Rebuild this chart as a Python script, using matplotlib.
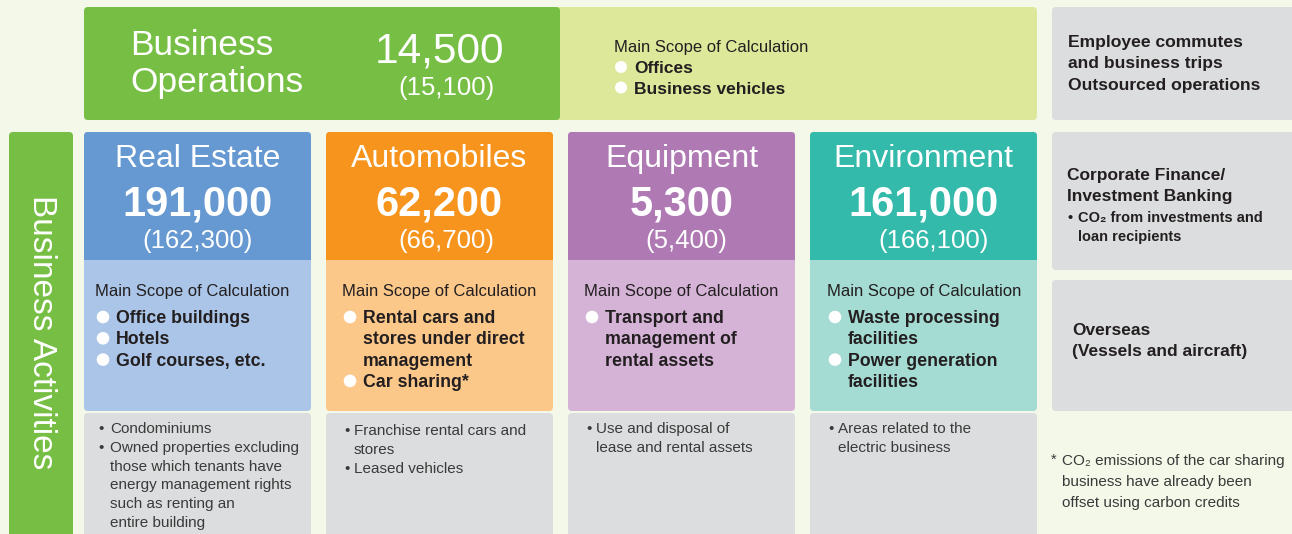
import matplotlib
matplotlib.use("Agg")
import matplotlib.pyplot as plt
from matplotlib.patches import FancyBboxPatch, Circle, Rectangle

plt.rcParams['font.family'] = ['Liberation Sans', 'DejaVu Sans']

# ---------------- data ----------------
ops_label = ["Business", "Operations"]
ops_value = 14500
ops_prev = 15100
scope_title = "Main Scope of Calculation"
ops_scope = ["Offices", "Business vehicles"]
ops_other = ["Employee commutes", "and business trips", "Outsourced operations"]

categories = ["Real Estate", "Automobiles", "Equipment", "Environment"]
values = [191000, 62200, 5300, 161000]
prev_values = [162300, 66700, 5400, 166100]
scope_items = [
    [["Office buildings"], ["Hotels"], ["Golf courses, etc."]],
    [["Rental cars and", "stores under direct", "management"], ["Car sharing*"]],
    [["Transport and", "management of", "rental assets"]],
    [["Waste processing", "facilities"], ["Power generation", "facilities"]],
]
excluded_items = [
    [["Condominiums"], ["Owned properties excluding", "those which tenants have",
                         "energy management rights", "such as renting an", "entire building"]],
    [["Franchise rental cars and", "stores"], ["Leased vehicles"]],
    [["Use and disposal of", "lease and rental assets"]],
    [["Areas related to the", "electric business"]],
]
side_finance = ["Corporate Finance/", "Investment Banking"]
side_finance_note = ["CO\u2082 from investments and", "loan recipients"]
side_overseas = ["Overseas", "(Vessels and aircraft)"]
footnote = ["CO\u2082 emissions of the car sharing", "business have already been",
            "offset using carbon credits"]
side_label = "Business Activities"

# ---------------- style ----------------
BG = "#F4F8E9"
GREEN = "#76BF44"
LGREEN = "#DEE89B"
GRAY = "#DCDDDE"
DARK = "#231F20"
SOFT = "#3A3A3A"
dark_colors = ["#6699D1", "#F7941D", "#AF79B4", "#34BAAA"]
light_colors = ["#AAC5E7", "#FCC88A", "#D5B3D7", "#A4DBD3"]

W, H = 1292, 534
fig = plt.figure(figsize=(W / 100, H / 100), dpi=100, facecolor=BG)
ax = fig.add_axes([0, 0, 1, 1])
ax.set_xlim(0, W)
ax.set_ylim(H, 0)
ax.axis("off")
ax.set_facecolor(BG)


def rbox(x0, y0, x1, y1, color, r=4, z=1):
    p = FancyBboxPatch((x0, y0), x1 - x0, y1 - y0,
                       boxstyle=f"round,pad=0,rounding_size={r}",
                       fc=color, ec="none", zorder=z)
    ax.add_patch(p)


def txt(x, y, s, size, color=DARK, weight="normal", ha="left", **kw):
    ax.text(x, y, s, fontsize=size, color=color, fontweight=weight,
            ha=ha, va="baseline", **kw)


def dot(x, y, r=6.3):
    ax.add_patch(Circle((x, y), r, fc="white", ec="none", zorder=3))


# ---------------- top row ----------------
rbox(552, 7, 1037, 120, LGREEN)
rbox(84, 7, 560, 120, GREEN, z=2)
rbox(1052, 7, 1310, 120, GRAY)

txt(130, 55, ops_label[0], 25.5, "white")
txt(130, 92, ops_label[1], 25.5, "white")
txt(439, 62, f"{ops_value:,}", 30.5, "white", ha="center")
txt(446, 95, f"({ops_prev:,})", 18.5, "white", ha="center")

txt(614, 52, scope_title, 12)
for i, s in enumerate(ops_scope):
    yb = 73 + i * 20.5
    dot(621, yb - 6, 6)
    txt(634, yb, s, 12.5, weight="bold")

for i, s in enumerate(ops_other):
    txt(1068, 47 + i * 21.3, s, 12.6, weight="bold")

# ---------------- left side bar ----------------
rbox(9, 132, 73, 560, GREEN)
ax.text(41, 332, side_label, fontsize=24, color="white", rotation=270,
        ha="center", va="center")

# ---------------- category columns ----------------
col_x0 = [84, 326, 568, 810]
col_w = 227
title_inset = [11, 16, 16, 17]
prev_shift = [0, 7, 5, 10]
excl_first = [433, 435, 433, 433]

for k, cat in enumerate(categories):
    x0 = col_x0[k]
    x1 = x0 + col_w
    cx = (x0 + x1) / 2
    rbox(x0, 132, x1, 411, light_colors[k])
    rbox(x0, 132, x1, 260, dark_colors[k], z=1.5)
    ax.add_patch(Rectangle((x0, 250), col_w, 10, fc=dark_colors[k], ec="none", zorder=1.6))
    rbox(x0, 413, x1, 560, GRAY)

    txt(cx, 167, cat, 23, "white", ha="center")
    txt(cx, 215, f"{values[k]:,}", 30, "white", weight="bold", ha="center")
    txt(cx + prev_shift[k], 248, f"({prev_values[k]:,})", 18.5, "white", ha="center")

    ti = title_inset[k]
    txt(x0 + ti, 296, scope_title, 12)
    line = 0
    for item in scope_items[k]:
        for j, s in enumerate(item):
            yb = 323 + line * 21.3
            if j == 0:
                dot(x0 + ti + 8, yb - 6)
            txt(x0 + ti + 21, yb, s, 12.8, weight="bold")
            line += 1

    line = 0
    bx = x0 + (14 if k == 0 else 18)
    tx = x0 + (26 if k == 0 else 28)
    for item in excluded_items[k]:
        for j, s in enumerate(item):
            yb = excl_first[k] + line * 18.8
            if j == 0:
                txt(bx, yb, "\u2022", 11, SOFT)
            txt(tx, yb, s, 11, SOFT)
            line += 1

# ---------------- right side boxes ----------------
rbox(1052, 132, 1310, 270, GRAY)
rbox(1052, 280, 1310, 411, GRAY)
txt(1067, 180, side_finance[0], 12.5, weight="bold")
txt(1067, 201, side_finance[1], 12.5, weight="bold")
for i, s in enumerate(side_finance_note):
    yb = 222 + i * 19
    if i == 0:
        txt(1068, yb, "\u2022", 10.5, weight="bold")
    txt(1078, yb, s, 10.5, weight="bold")
txt(1072, 335, side_overseas[0], 12.5, weight="bold")
txt(1072, 356, side_overseas[1], 12.5, weight="bold")

for i, s in enumerate(footnote):
    yb = 465 + i * 21
    if i == 0:
        txt(1051, yb - 1, "*", 10.5, SOFT)
    txt(1062, yb, s, 11, SOFT)

fig.savefig("out.png", dpi=100, facecolor=BG)
